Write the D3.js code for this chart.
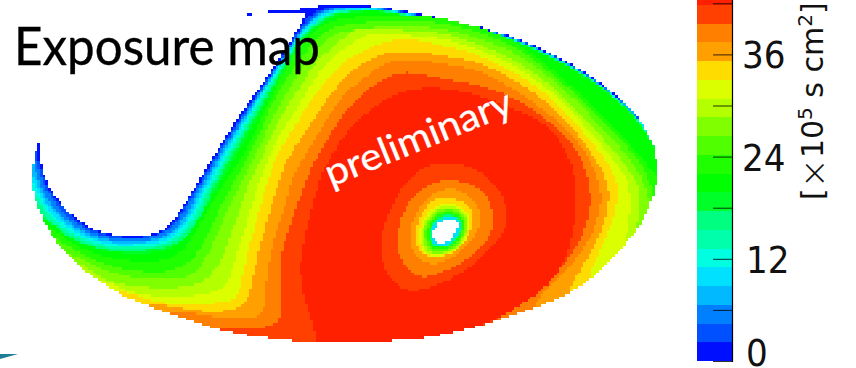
<!DOCTYPE html>
<html><head><meta charset="utf-8">
<script src="https://cdn.jsdelivr.net/npm/d3@7"></script>
<style>html,body{margin:0;background:#fff}svg{display:block}</style></head>
<body><svg id="c" width="856" height="368"></svg>
<script>
// colour bins, low to high exposure
const binColors=["#0010ff","#0050ff","#0080ff","#00b9ff","#00e1ff","#00ffe1","#00ffaa","#00ff80","#00ff28","#00ff00","#20ff00","#50ff00","#80ff00","#b4ff00","#dcff00","#ffdc00","#ffa000","#ff8000","#ff4000","#ff2000"];
const binWidth=2.2;
const tickValues=[0,6,12,18,24,30,36,42];
const tickLabels=[0,12,24,36];
// sky-map outline and contours, in map-plane units
const outline=[[42,131],[36,150],[33,165],[32,184],[37,205],[45,224],[55,240],[70,258],[85,271],[100,281],[120,294],[145,305],[170,314],[200,324],[225,331],[260,337],[300,341],[340,343],[400,340],[430,337],[470,329],[510,316],[540,306],[570,293],[600,272],[625,245],[640,225],[650,205],[657,184],[657,160],[652,140],[635,112],[610,90],[585,72],[545,50],[500,32],[450,20],[400,10],[372,6],[340,5],[320,6],[300,9],[275,11],[255,13],[240,15],[240,15.5],[255,14],[275,13.5],[297,14],[306,14],[300,25],[288,45],[275,65],[258,90],[243,110],[225,138],[210,162],[197,184],[183,207],[170,225],[155,234],[135,237],[110,235],[85,226],[60,204],[47,184],[40,160],[39,145]];
const topEdge=[[372,6],[400,10],[450,20],[500,32],[545,50],[585,72],[610,90],[635,112],[652,135],[664,160],[664,184],[680,184]];
const edgeDepth=[0.8,1.2,1.6,2,2.4,2.8,3.2,3.8,4.5];
const lowLevels=[
[[0,140],[37,146],[38,160],[46,185],[59,205],[84,227],[110,236],[135,238],[156,235],[171,226],[184,208],[198,185],[226,139],[259,91],[289,46],[299,30],[308,16],[325,7]],
[[0,150],[34,152],[36,162],[44,186],[57,207],[83,229],[110,238],[135,239],[157,236],[173,227],[186,209],[199,186],[227,140],[260,91],[290,46],[300,30],[312,16],[330,7]],
[[0,160],[32,160],[35,170],[41,188],[54,210],[82,232],[110,241],[135,241],[158,239],[175,230],[189,211],[201,187],[229,141],[261,92],[291,46],[302,30],[316,15],[333,8]],
[[0,170],[33,172],[39,190],[52,212],[81,234],[110,243],[135,243],[159,241],[177,231],[191,212],[203,188],[230,142],[262,92],[292,46],[303,30],[320,14],[336,9]],
[[0,178],[34,180],[37,192],[50,214],[80,236],[110,245],[135,245],[160,243],[179,233],[193,214],[205,189],[232,143],[263,92],[293,46],[305,30],[324,14],[339,10]],
[[0,188],[35,192],[48,216],[78,238],[110,247],[135,247],[161,245],[181,235],[195,215],[207,190],[234,144],[265,92],[294,46],[306,30],[328,13],[342,11]],
[[0,197],[37,197],[46,218],[76,240],[110,249],[135,249],[162,247],[183,237],[198,217],[209,191],[236,145],[267,92],[295,46],[307,30],[332,13],[344,12]],
[[0,204],[37,204],[44,220],[73,240],[107,251],[135,251],[163,249],[185,239],[201,219],[211,192],[238,146],[269,93],[296,46],[309,30],[336,12],[348,12]],
[[0,212],[38,212],[80,247],[135,255],[177,249],[197,222],[217,188],[242,146],[271,93],[298,46],[311,30],[340,13],[352,13]]
];
const highLevels=[
[[42,225],[42,221],[87,254],[147,264],[180,256],[200,224],[217,194],[223,184],[247,150],[260,120],[273,92],[285,67],[300,47],[313,30],[340,17],[400,15],[440,17],[480,27],[520,44],[560,75],[600,112],[640,155],[655,175],[670,180]],
[[50,240],[50,234],[100,266],[160,274],[190,264],[207,237],[220,207],[233,184],[251,150],[260,133],[267,113],[277,95],[290,73],[305,53],[320,35],[340,24],[400,20],[440,22],[480,32],[520,49],[560,80],[600,118],[640,160],[653,190],[652,205],[665,215]],
[[67,258],[67,252],[110,274],[167,281],[197,274],[213,244],[227,211],[240,184],[260,147],[268,125],[280,105],[293,82],[310,58],[327,40],[340,31],[400,25],[440,28],[480,38],[520,55],[560,85],[600,125],[635,165],[647,190],[650,210],[642,224],[655,235]],
[[80,268],[80,262],[110,284],[167,289],[203,284],[222,261],[237,217],[248,184],[260,163],[270,137],[283,113],[298,90],[313,65],[332,47],[350,33],[360,28],[400,30],[440,32],[480,45],[520,62],[560,92],[600,135],[630,170],[640,190],[640,215],[633,239],[645,250]],
[[100,285],[100,279],[140,296],[200,296],[227,287],[233,267],[247,221],[258,184],[273,147],[287,123],[302,100],[318,73],[337,53],[360,38],[373,32],[400,35],[440,37],[480,50],[520,68],[560,98],[600,143],[625,175],[630,190],[630,217],[623,252],[635,265]],
[[120,295],[120,289],[167,306],[207,304],[233,301],[240,291],[245,264],[257,217],[267,184],[273,163],[288,137],[303,113],[323,83],[343,62],[370,47],[393,40],[410,39],[440,45],[480,55],[520,75],[560,105],[590,140],[610,165],[618,184],[615,217],[600,250],[588,279],[588,310]],
[[143,310],[143,301],[200,312],[233,311],[248,301],[255,267],[263,234],[278,184],[285,163],[298,143],[313,120],[332,92],[350,72],[373,57],[400,50],[440,55],[480,62],[520,83],[560,113],[590,150],[610,184],[607,217],[590,255],[567,291],[567,320]],
[[167,318],[167,309],[233,320],[263,317],[265,294],[270,251],[287,201],[290,184],[298,167],[310,147],[325,122],[342,97],[357,83],[377,68],[400,58],[440,63],[480,70],[520,93],[560,122],[585,150],[601,184],[600,217],[583,251],[560,277],[530,307],[530,340]],
[[217,345],[217,327],[240,329],[273,327],[283,316],[280,290],[280,267],[283,247],[293,217],[305,184],[310,170],[323,147],[340,118],[357,98],[373,85],[400,70],[440,78],[480,85],[520,100],[560,130],[580,155],[590,184],[590,217],[573,254],[547,284],[510,307],[497,319],[497,350]],
[[318,350],[315,332],[307,307],[300,277],[302,247],[318,184],[323,170],[343,137],[360,118],[377,105],[393,95],[410,90],[433,87],[473,93],[517,110],[553,128],[570,160],[577,184],[573,241],[557,277],[527,302],[483,326],[437,336],[437,350]]
];
const ringLevels=[18,17,16,15,14,13,12,11,10,7,4];
const rings=[
[[508,217],[503,194],[493,182],[473,167],[450,162],[427,165],[407,180],[397,197],[383,227],[380,254],[390,281],[410,292],[433,287],[457,276],[483,257],[503,234]],
[[495,217],[487,194],[472,184],[450,179],[433,183],[410,197],[398,227],[397,251],[405,267],[420,279],[443,272],[470,259],[490,237]],
[[478,205],[463,191],[448,187],[425,198],[412,220],[409,240],[416,258],[435,266],[458,255],[476,236],[482,218]],
[[471,206],[450,197],[428,201],[415,228],[418,252],[437,259],[460,250],[474,225]],
[[467,210],[449,202],[428,209],[418,232],[422,255],[441,257],[463,247],[470,226]],
[[466,212],[449,204],[429,212],[420,233],[424,253],[442,256],[462,246],[468,227]],
[[465,214],[449,206],[430,214],[422,233],[426,252],[444,254],[461,244],[467,228]],
[[464,216],[449,208],[431,216],[424,233],[428,250],[446,252],[460,243],[466,228]],
[[463,218],[449,210],[432,218],[426,234],[430,248],[446,250],[459,241],[464,228]],
[[461,219],[448,213],[434,220],[428,234],[432,246],[446,248],[457,240],[462,228]],
[[460,220],[448,215],[435,222],[430,234],[433,244],[446,247],[455,239],[461,228]]
];
const hole=[[457,221],[447,218],[437,224],[432,234],[435,242],[445,244],[453,237],[458,227]];
const wedge=[[0,354],[18,354],[0,359]];

const svg=d3.select("#c");
const x=d3.scaleLinear().domain([32,657]).range([32,657]);
const y=d3.scaleLinear().domain([5,342]).range([5,342]);

function smooth(p,n){
  for(let k=0;k<n;k++){
    const q=[];
    for(let i=0;i<p.length;i++){
      const a=p[i],b=p[(i+1)%p.length];
      q.push([.75*a[0]+.25*b[0],.75*a[1]+.25*b[1]],[.25*a[0]+.75*b[0],.25*a[1]+.75*b[1]]);
    }
    p=q;
  }
  return p;
}
function closeBelow(p){const f=p[0],l=p[p.length-1];return p.concat([[l[0],420],[f[0],420]]);}
const cx=344,cy=173;
const lowPolys=lowLevels.map((p,i)=>{
  const d=edgeDepth[i];
  const e=topEdge.map(q=>{const r=Math.hypot(q[0]-cx,q[1]-cy);const s=1-d/r;return[cx+(q[0]-cx)*s,cy+(q[1]-cy)*s];});
  return smooth(closeBelow(p.concat(e.filter(q=>q[0]>p[p.length-1][0]))),2);
});
const levelPolys=lowPolys.map((p,i)=>({level:i+1,p})).concat(highLevels.map((p,i)=>({level:i+10,p:smooth(closeBelow(p),2)}))).reverse();
const ringPolys=rings.map((p,i)=>({level:ringLevels[i],p:smooth(p,2)})).reverse();
const holePoly=smooth(hole,2);
const outlinePoly=smooth(outline,1);

const cell=2.65,cols=d3.range(0,Math.ceil(626/cell)),rows=d3.range(0,Math.ceil(339/cell));
const gx=d3.scaleLinear().domain([0,cols.length]).range([32,32+cols.length*cell]);
const gy=d3.scaleLinear().domain([0,rows.length]).range([5,5+rows.length*cell]);
function valueAt(px,py){
  if(!d3.polygonContains(outlinePoly,[px,py]))return null;
  if(d3.polygonContains(holePoly,[px,py]))return null;
  if(px>370&&px<515&&py>155&&py<300){
    for(const r of ringPolys) if(d3.polygonContains(r.p,[px,py]))return r.level;
  }
  for(const l of levelPolys) if(d3.polygonContains(l.p,[px,py]))return l.level;
  return 0;
}
const runs=[];
rows.forEach(r=>{
  let cur=null;
  cols.forEach(c=>{
    const v=valueAt(gx(c+.5),gy(r+.5));
    if(cur&&cur.v===v){cur.end=c+1;}
    else{ if(cur&&cur.v!==null)runs.push(cur); cur={r,start:c,end:c+1,v}; }
  });
  if(cur&&cur.v!==null)runs.push(cur);
});
svg.append("g").attr("shape-rendering","crispEdges").selectAll("rect").data(runs).join("rect")
  .attr("x",d=>x(gx(d.start))).attr("width",d=>x(gx(d.end))-x(gx(d.start)))
  .attr("y",d=>y(gy(d.r))).attr("height",d=>y(gy(d.r+1))-y(gy(d.r)))
  .attr("fill",d=>binColors[d.v]);

svg.append("path").attr("d",d3.line().x(d=>x(d[0])).y(d=>y(d[1]))(wedge)+"Z").attr("fill","#1f7d96");

// colour bar
const z=d3.scaleLinear().domain([0,6]).range([361,309.9]);
const barX=697,barR=732;
const bar=svg.append("g");
bar.selectAll("rect").data(binColors).join("rect")
  .attr("x",barX).attr("width",barR-barX)
  .attr("y",(d,i)=>z((i+1)*binWidth)).attr("height",(d,i)=>z(i*binWidth)-z((i+1)*binWidth))
  .attr("fill",d=>d).attr("shape-rendering","crispEdges");
const axis=d3.axisRight(z).tickValues(tickValues).tickSize(0).tickFormat("");
const ag=svg.append("g").attr("transform",`translate(${barR+.5},0)`).call(axis);
ag.select(".domain").remove();
ag.append("line").attr("x1",0).attr("x2",0).attr("y1",0).attr("y2",362).attr("stroke","#000").attr("stroke-width",1.2);
ag.selectAll(".tick line").attr("x2",-19.5).attr("stroke","#000").attr("stroke-width",1).attr("opacity",.8);

const numFont='"DejaVu Sans"';
svg.append("g").selectAll("text").data(tickLabels).join("text")
  .attr("x",d=>d===0?746:d===12?746:742).attr("y",d=>Math.min(z(d)+14,366))
  .attr("font-family",numFont).attr("font-stretch","condensed").attr("font-size",38).attr("fill","#111")
  .text(d=>d);
const title=svg.append("text").attr("transform","translate(823,200) rotate(-90)")
  .attr("font-family",numFont).attr("font-size",30).attr("fill","#111");
title.append("tspan").text("[");
title.append("tspan").attr("font-size",36).attr("font-weight",200).attr("dy",3).text("×");
title.append("tspan").attr("dy",-3).text("10");
title.append("tspan").attr("font-size",20).attr("dy",-11).text("5");
title.append("tspan").attr("dy",11).text(" s cm");
title.append("tspan").attr("font-size",20).attr("dy",-11).text("2");
title.append("tspan").attr("dy",11).text("]");

svg.append("text").attr("x",14).attr("y",65).attr("font-family","Lato").attr("font-size",53).attr("fill","#000").attr("stroke","#000").attr("stroke-width",.35)
  .attr("textLength",306).attr("lengthAdjust","spacingAndGlyphs").text("Exposure map");
svg.append("text").attr("transform","translate(331,187) rotate(-22)").attr("font-family","Lato").attr("font-size",38).attr("fill","#fff").attr("stroke","#fff").attr("stroke-width",.3)
  .attr("textLength",199).attr("lengthAdjust","spacingAndGlyphs").text("preliminary");
</script></body></html>
